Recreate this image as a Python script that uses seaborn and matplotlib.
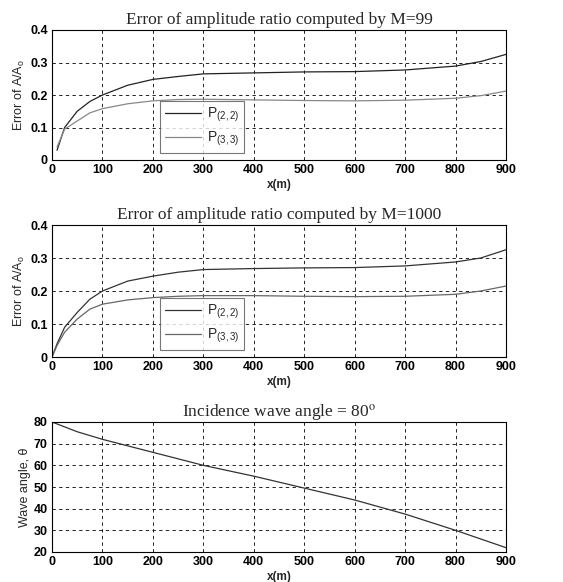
import numpy as np
import pandas as pd
import seaborn as sns
from matplotlib import pyplot as plt

# values
x_m99 = [10, 25, 50, 75, 100, 150, 200, 250, 300, 400, 500, 600, 700, 800, 850, 900]
p22_m99 = [0.03, 0.10, 0.15, 0.18, 0.20, 0.230, 0.248, 0.257, 0.265, 0.268, 0.271, 0.272, 0.277, 0.289, 0.303, 0.325]
p33_m99 = [0.04, 0.095, 0.12, 0.145, 0.158, 0.173, 0.182, 0.186, 0.187, 0.185, 0.183, 0.182, 0.184, 0.190, 0.198, 0.212]

x_m1000 = [0, 10, 25, 50, 75, 100, 150, 200, 250, 300, 400, 500, 600, 700, 800, 850, 900]
p22_m1000 = [0.0, 0.04, 0.09, 0.135, 0.175, 0.20, 0.230, 0.245, 0.257, 0.265, 0.268, 0.270, 0.271, 0.276, 0.288, 0.300, 0.325]
p33_m1000 = [0.0, 0.035, 0.075, 0.115, 0.145, 0.160, 0.173, 0.180, 0.184, 0.186, 0.186, 0.184, 0.183, 0.184, 0.190, 0.200, 0.215]

x_angle = [0, 50, 100, 150, 200, 300, 400, 500, 600, 700, 800, 850, 900]
angle = [80, 75.5, 72, 69, 66, 60, 55, 49.5, 44, 37.5, 30, 26, 22]

titles = ["Error of amplitude ratio computed by M=99",
          "Error of amplitude ratio computed by M=1000",
          "Incidence wave angle = 80$^\\mathrm{o}$"]
x_ticks = list(range(0, 1000, 100))

sns.set_style("white")
plt.rcParams['font.family'] = ['Liberation Sans', 'DejaVu Sans']
plt.rcParams['mathtext.fontset'] = 'custom'
plt.rcParams['mathtext.rm'] = 'Liberation Sans'
plt.rcParams['mathtext.it'] = 'Liberation Sans:italic'

fig = plt.figure(figsize=(5.63, 5.82), dpi=100)
W, H = 563, 582


def make_axes(top, bottom):
    return fig.add_axes([52 / W, 1 - bottom / H, 454 / W, (bottom - top) / H])


def style_axes(ax, title, ylabel, yticks, ylabels):
    ax.set_xlim(0, 900)
    ax.set_xticks(x_ticks)
    ax.set_ylim(yticks[0], yticks[-1])
    ax.set_yticks(yticks)
    ax.set_yticklabels(ylabels)
    ax.grid(True, color="black", linestyle=(0, (4, 4)), linewidth=0.6)
    for s in ax.spines.values():
        s.set_color("black")
        s.set_linewidth(0.8)
    ax.tick_params(direction="in", length=3, labelsize=9, colors="black", pad=3)
    for lbl in ax.get_xticklabels() + ax.get_yticklabels():
        lbl.set_fontweight("bold")
    ax.set_title(title, family="Liberation Serif", fontsize=12.5, pad=4,
                 math_fontfamily="stix")
    ax.set_xlabel("x(m)", fontsize=8.5, fontweight="bold", labelpad=2)
    ax.set_ylabel(ylabel, fontsize=9, labelpad=2)


def error_panel(ax, xs, a, b, title, colors):
    df = pd.DataFrame({"x": xs + xs, "err": a + b,
                       "curve": ["P$_{(2,2)}$"] * len(xs) + ["P$_{(3,3)}$"] * len(xs)})
    sns.lineplot(data=df, x="x", y="err", hue="curve", palette=colors, ax=ax, linewidth=0.9)
    style_axes(ax, title, "Error of A/A$_\\mathrm{o}$", [0, 0.1, 0.2, 0.3, 0.4],
               ["0", "0.1", "0.2", "0.3", "0.4"])
    leg = ax.legend(loc="lower left", bbox_to_anchor=(0.238, 0.054), fontsize=10,
                    frameon=True, fancybox=False, edgecolor="#555555",
                    handlelength=2.6, handletextpad=0.4, borderpad=0.35,
                    labelspacing=0.4, borderaxespad=0)
    leg.get_frame().set_linewidth(0.8)


ax1 = make_axes(30, 160)
error_panel(ax1, x_m99, p22_m99, p33_m99, titles[0], ["#222222", "#888888"])

ax2 = make_axes(225, 357)
error_panel(ax2, x_m1000, p22_m1000, p33_m1000, titles[1], ["#333333", "#666666"])

ax3 = make_axes(422, 552)
sns.lineplot(x=x_angle, y=angle, ax=ax3, color="#333333", linewidth=0.9)
style_axes(ax3, titles[2], "Wave angle, θ", [20, 30, 40, 50, 60, 70, 80],
           ["20", "30", "40", "50", "60", "70", "80"])

fig.savefig("out.png", dpi=100, facecolor="white")
